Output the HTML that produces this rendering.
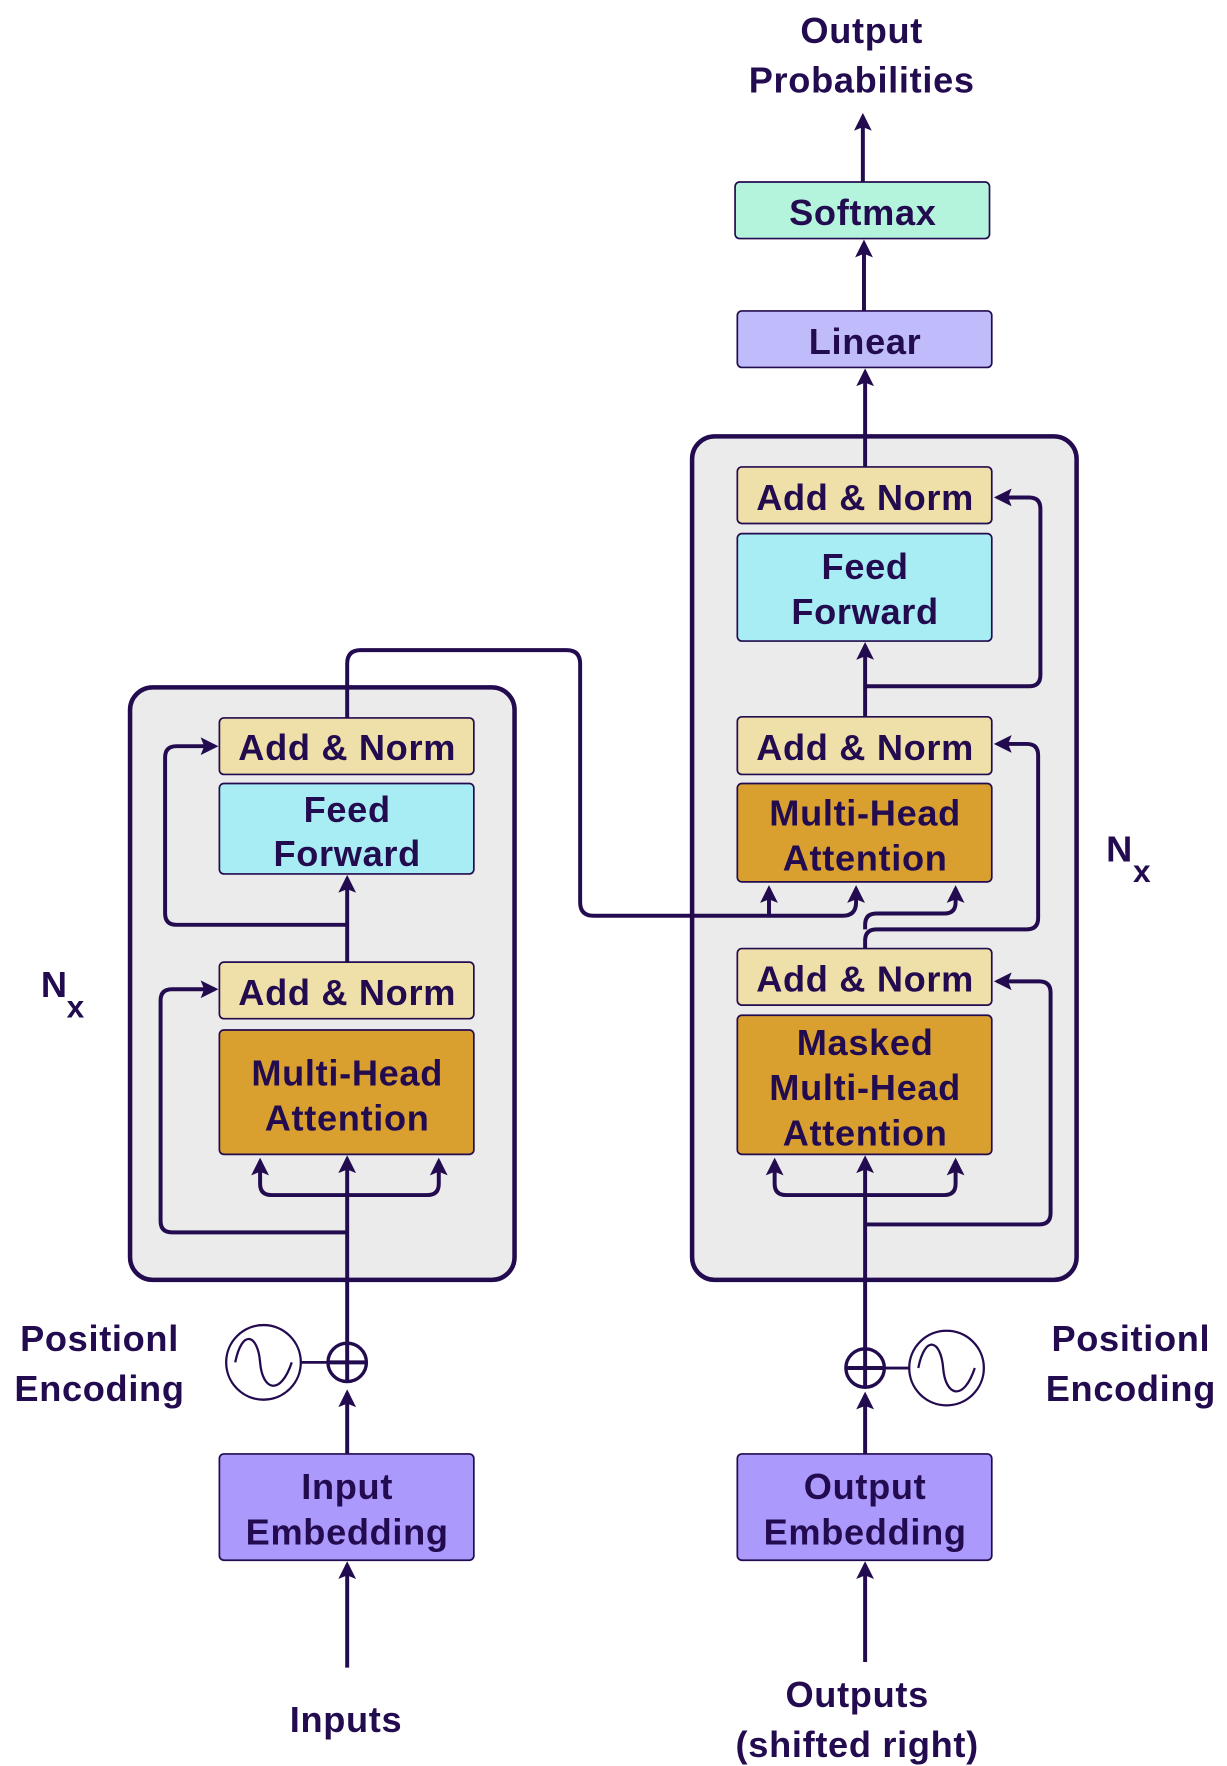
<!DOCTYPE html>
<html><head><meta charset="utf-8"><style>
html,body{margin:0;padding:0;background:#fff}
svg{display:block}
text{font-family:"Liberation Sans",sans-serif;font-weight:bold;fill:#230b4f;text-anchor:middle;letter-spacing:0.6px}
</style></head><body>
<svg width="1227" height="1766" viewBox="0 0 1085 1562" preserveAspectRatio="none" xmlns="http://www.w3.org/2000/svg">
<defs>
<marker id="a" viewBox="0 0 10 10" refX="8" refY="5" markerWidth="4.5" markerHeight="4.5" orient="auto"><path d="M0,0 L10,5 L0,10 L2,5 z" fill="#230b4f"/></marker>
</defs>
<g stroke="#230b4f" stroke-width="4">
<rect x="115" y="608" width="340" height="524" rx="20" fill="#ebebeb"/>
<rect x="612" y="386" width="340" height="746" rx="20" fill="#ebebeb"/>
</g>
<g stroke="#230b4f" stroke-width="3.5" fill="none" stroke-linejoin="round">
<!-- left -->
<path d="M307,1475 V1384" marker-end="url(#a)"/>
<path d="M307,1286 V1232" marker-end="url(#a)"/>
<path d="M307,1222 V1025" marker-end="url(#a)"/>
<path d="M307,1057 H240 Q230,1057 230,1047 V1027" marker-end="url(#a)"/>
<path d="M307,1057 H378 Q388,1057 388,1047 V1027" marker-end="url(#a)"/>
<path d="M307,1090 H152 Q142,1090 142,1080 V885 Q142,875 152,875 H190" marker-end="url(#a)"/>
<path d="M307,901 V777" marker-end="url(#a)"/>
<path d="M307,818 H156 Q146,818 146,808 V670 Q146,660 156,660 H190" marker-end="url(#a)"/>
<path d="M307,685 V587 Q307,575 319,575 H501 Q513,575 513,587 V798 Q513,810 525,810 H745 Q757,810 757,798 V786" marker-end="url(#a)"/>
<path d="M680,810 V786" marker-end="url(#a)"/>
<!-- right -->
<path d="M765,1470 V1384" marker-end="url(#a)"/>
<path d="M765,1286 V1234" marker-end="url(#a)"/>
<path d="M765,1227 V1025" marker-end="url(#a)"/>
<path d="M765,1057 H695 Q685,1057 685,1047 V1027" marker-end="url(#a)"/>
<path d="M765,1057 H835 Q845,1057 845,1047 V1027" marker-end="url(#a)"/>
<path d="M765,1083 H919 Q929,1083 929,1073 V878 Q929,868 919,868 H882" marker-end="url(#a)"/>
<path d="M765,839 V832 Q765,822 775,822 H908 Q918,822 918,812 V668 Q918,658 908,658 H882" marker-end="url(#a)"/>
<path d="M765,822 V818 Q765,808 775,808 H835 Q845,808 845,798 V786" marker-end="url(#a)"/>
<path d="M765,634 V571" marker-end="url(#a)"/>
<path d="M765,607 H910 Q920,607 920,597 V450 Q920,440 910,440 H882" marker-end="url(#a)"/>
<path d="M765,413 V329" marker-end="url(#a)"/>
<path d="M764,275 V215" marker-end="url(#a)"/>
<path d="M763,161 V103" marker-end="url(#a)"/>
<!-- pos enc -->
<circle cx="233" cy="1205" r="33" stroke-width="2" fill="#fff"/>
<path d="M208,1205 C214,1175 228,1180 230,1205 C232,1230 248,1235 258,1205" stroke-width="2"/>
<path d="M266,1205 H290" stroke-width="2.5"/>
<circle cx="307" cy="1205" r="17" stroke-width="3"/>
<path d="M290,1205 H324"/>
<circle cx="837" cy="1210" r="33" stroke-width="2" fill="#fff"/>
<path d="M812,1210 C818,1180 832,1185 834,1210 C836,1235 852,1240 862,1210" stroke-width="2"/>
<path d="M782,1210 H804" stroke-width="2.5"/>
<circle cx="765" cy="1210" r="17" stroke-width="3"/>
<path d="M748,1210 H782"/>
</g>
<g stroke="#230b4f" stroke-width="1.5">
<rect x="194" y="635" width="225" height="50" rx="4" fill="#efdfa8"/>
<rect x="194" y="693" width="225" height="80" rx="4" fill="#a8ecf4"/>
<rect x="194" y="851" width="225" height="50" rx="4" fill="#efdfa8"/>
<rect x="194" y="911" width="225" height="110" rx="4" fill="#d9a030"/>
<rect x="194" y="1286" width="225" height="94" rx="4" fill="#ab99fb"/>
<rect x="652" y="413" width="225" height="50" rx="4" fill="#efdfa8"/>
<rect x="652" y="472" width="225" height="95" rx="4" fill="#a8ecf4"/>
<rect x="652" y="634" width="225" height="51" rx="4" fill="#efdfa8"/>
<rect x="652" y="693" width="225" height="87" rx="4" fill="#d9a030"/>
<rect x="652" y="839" width="225" height="50" rx="4" fill="#efdfa8"/>
<rect x="652" y="898" width="225" height="123" rx="4" fill="#d9a030"/>
<rect x="652" y="1286" width="225" height="94" rx="4" fill="#ab99fb"/>
<rect x="652" y="275" width="225" height="50" rx="4" fill="#c0bcfb"/>
<rect x="650" y="161" width="225" height="50" rx="4" fill="#b4f3dc"/>
</g>
<g font-size="32">
<text x="307" y="672">Add &amp; Norm</text>
<text x="307" y="727">Feed</text><text x="307" y="766">Forward</text>
<text x="307" y="889">Add &amp; Norm</text>
<text x="307" y="960">Multi-Head</text><text x="307" y="1000">Attention</text>
<text x="307" y="1326">Input</text><text x="307" y="1366">Embedding</text>
<text x="765" y="451">Add &amp; Norm</text>
<text x="765" y="512">Feed</text><text x="765" y="552">Forward</text>
<text x="765" y="672">Add &amp; Norm</text>
<text x="765" y="730">Multi-Head</text><text x="765" y="770">Attention</text>
<text x="765" y="877">Add &amp; Norm</text>
<text x="765" y="933">Masked</text><text x="765" y="973">Multi-Head</text><text x="765" y="1013">Attention</text>
<text x="765" y="1326">Output</text><text x="765" y="1366">Embedding</text>
<text x="765" y="313">Linear</text>
<text x="763" y="199">Softmax</text>
<text x="762" y="38">Output</text><text x="762" y="82">Probabilities</text>
<text x="88" y="1195">Positionl</text><text x="88" y="1239">Encoding</text>
<text x="1000" y="1195">Positionl</text><text x="1000" y="1239">Encoding</text>
<text x="306" y="1532">Inputs</text>
<text x="758" y="1510">Outputs</text><text x="758" y="1554">(shifted right)</text>
<text x="48" y="882">N</text><text x="67" y="900" font-size="28">x</text>
<text x="990" y="762">N</text><text x="1010" y="780" font-size="28">x</text>
</g>
</svg>
</body></html>
